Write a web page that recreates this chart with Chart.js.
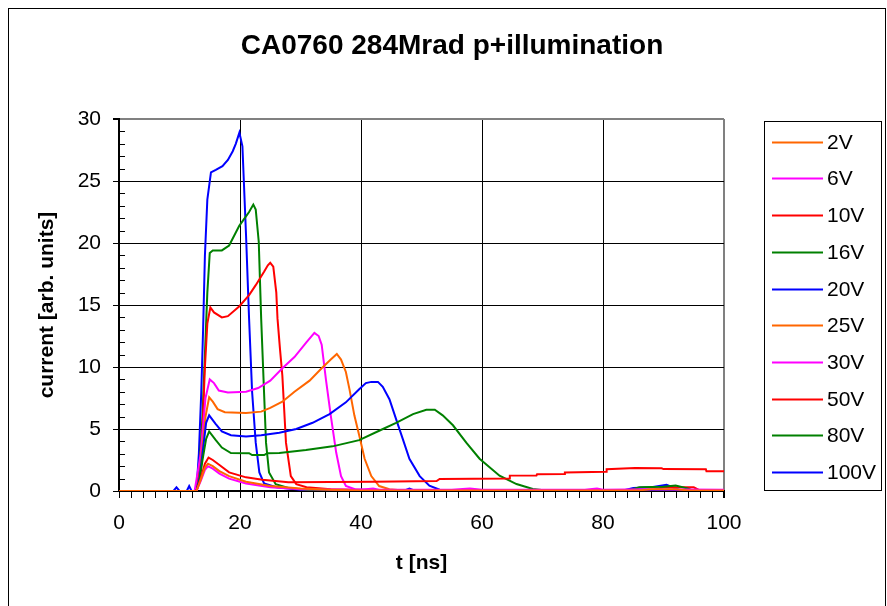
<!DOCTYPE html>
<html>
<head>
<meta charset="utf-8">
<script src="https://cdn.jsdelivr.net/npm/chart.js@4"></script>
<style>
  body { margin: 0; background: #fff; }
  #wrap { width: 887px; height: 606px; }
</style>
</head>
<body>
<div id="wrap"><canvas id="pulseChart" width="887" height="606"></canvas></div>
<script>
// series labels and colours (Excel default line colours)
const seriesLabels = ['2V', '6V', '10V', '16V', '20V', '25V', '30V', '50V', '80V', '100V'];
const seriesColors = ['#FF6600', '#FF00FF', '#FF0000', '#008000', '#0000FF',
                      '#FF6600', '#FF00FF', '#FF0000', '#008000', '#0000FF'];

// [t ns, current]
const v2 = [[0,0],[12.8,0],[13.5,0.9],[14.2,1.9],[14.7,2.2],[15.5,2.0],[16.6,1.6],[18.2,1.2],[21,0.75],[25,0.4],
  [30,0.2],[35,0.1],[40,0.05],[86,0.05],[88,0.15],[92,0.15],[94,0.05],[100,0.05]];
const v6 = [[0,0],[12.8,0],[13.5,0.8],[14.2,1.7],[14.7,2.0],[15.5,1.8],[16.6,1.4],[18.2,1.0],[21,0.6],[25,0.3],
  [30,0.15],[40,0.1],[42,0.2],[43,0.1],[55,0.1],[58,0.2],[60,0.1],[77,0.1],[79,0.2],[80,0.1],[88,0.15],[100,0.1]];
const v10 = [[0,0],[12.8,0],[13.5,1],[14.2,2.2],[14.8,2.7],[15.5,2.5],[16.6,2.1],[18.2,1.5],[21,1.1],[23.7,0.9],
  [28,0.7],[35,0.72],[42,0.75],[52.5,0.8],[53,0.97],[64.5,1.0],[64.6,1.24],[69,1.25],[69.1,1.35],[73.6,1.37],
  [73.7,1.5],[80.5,1.55],[80.6,1.75],[85.3,1.85],[89.7,1.83],[90,1.77],[97,1.75],[97.1,1.59],[100,1.59]];
const v16 = [[0,0],[12.8,0],[13.3,0.8],[13.8,2.5],[14.4,4.2],[14.9,4.8],[16,4.1],[17,3.5],[18.5,3.06],[21.5,3.05],
  [22,2.9],[24,2.9],[24.5,3.05],[26.5,3.06],[30.9,3.3],[35.3,3.6],[39.7,4.1],[43,4.86],[45.8,5.5],[48.6,6.2],
  [50.8,6.55],[52.2,6.55],[53.5,6.1],[55.2,5.3],[57.4,3.9],[59.6,2.6],[62.9,1.23],[65.7,0.56],[68.4,0.16],
  [70.6,0.05],[72,0],[84,0],[86,0.3],[90,0.35],[92,0.45],[94,0.2],[95,0],[100,0]];
const v20 = [[0,0],[12.8,0],[13.3,1],[13.8,3],[14.4,5.5],[14.9,6.1],[16,5.4],[17,4.8],[18.5,4.5],[21,4.4],
  [23.5,4.5],[26.5,4.7],[29.3,5.0],[32,5.5],[34.8,6.2],[37.5,7.15],[39.7,8.2],[40.8,8.7],[41.7,8.8],[42.8,8.8],
  [43.6,8.4],[44.7,7.4],[45.8,5.8],[46.9,4.2],[48,2.6],[49.7,1.2],[51.3,0.43],[53,0.1],[56,0],[100,0]];
const v25 = [[0,0],[12.8,0],[13.3,1],[13.8,3.5],[14.3,6],[14.9,7.55],[15.5,7.2],[16.3,6.6],[17.5,6.35],[21,6.3],
  [23.5,6.4],[25,6.7],[27,7.2],[29,8.0],[31.5,8.9],[33.5,9.9],[35,10.6],[36,11.05],[36.7,10.6],[37.5,9.6],
  [38.1,8.2],[38.9,6.1],[39.7,4.5],[40.6,2.6],[41.7,1.2],[43,0.4],[44.7,0.15],[47,0.05],[100,0]];
const v30 = [[0,0],[12.5,0],[13.5,3],[14.3,7.5],[15,9.0],[15.7,8.7],[16.5,8.1],[18,7.95],[21,8.0],[23,8.3],
  [25,8.9],[27,9.9],[29,10.8],[31,12.0],[32.3,12.75],[33,12.5],[33.5,11.8],[34.2,9],[35,6.1],[35.9,3.1],
  [36.7,1.2],[37.5,0.4],[39,0.15],[45,0.05],[100,0.05]];
const v50 = [[0,0],[12.8,0],[13.3,1.5],[13.8,5],[14.2,10],[14.6,13.5],[15.1,14.8],[15.7,14.4],[17,14.0],[18,14.1],
  [19.9,14.9],[21.5,15.8],[22.6,16.6],[24,17.7],[24.6,18.2],[25,18.4],[25.5,18.1],[26,16],[26.2,13.9],
  [26.6,11.5],[27,9.3],[27.6,3.9],[28.4,1.2],[29.3,0.55],[31,0.3],[35,0.15],[45,0.05],[88,0.05],[90,0.3],
  [95,0.3],[96,0.05],[100,0.05]];
const v80 = [[0,0],[12.8,0],[13.3,2],[13.8,6],[14.2,11],[14.6,16],[15,19.2],[15.5,19.4],[17,19.4],[18.2,19.8],
  [19.9,21.4],[21.5,22.5],[22.2,23.1],[22.6,22.7],[23.1,20.1],[23.5,13.9],[24.3,3.9],[24.8,1.5],[25.9,0.55],
  [28,0.25],[32,0.05],[45,0],[100,0]];
const v100 = [[0,0],[9,0],[9.5,0.3],[10,0],[11.2,0],[11.6,0.4],[12,0],[12.8,0],[13.2,3],[13.6,8],[13.9,13],
  [14.2,19],[14.6,23.5],[15.2,25.7],[16,25.9],[17.1,26.2],[18,26.7],[18.8,27.4],[19.3,28],[19.9,28.9],
  [20.4,27.8],[21,20.6],[21.5,13.9],[22,8],[22.6,3.9],[23.2,1.5],[24,0.6],[26,0.3],[30,0.1],[40,0],[47,0],
  [48,0.2],[49,0],[83,0],[85,0.25],[88,0.3],[90.5,0.5],[92,0.2],[93,0],[100,0]];

const seriesData = [v2, v6, v10, v16, v20, v25, v30, v50, v80, v100];

const xTicks = { min: 0, max: 100, step: 20, minor: 2 };
const yTicks = { min: 0, max: 30, step: 5, minor: 1 };

const FONT = "'Liberation Sans', Arial, sans-serif";

// outer frame, title, minor ticks and boxed legend the way Excel draws them
const excelDecor = {
  id: 'excelDecor',
  afterDraw(chart) {
    const ctx = chart.ctx;
    const xs = chart.scales.x, ys = chart.scales.y;
    const area = chart.chartArea;
    ctx.save();

    ctx.strokeStyle = '#000';
    ctx.lineWidth = 1;
    ctx.beginPath();
    for (let v = xTicks.min; v <= xTicks.max; v += xTicks.minor) {
      const px = Math.round(xs.getPixelForValue(v)) + 0.5;
      ctx.moveTo(px, area.bottom);
      ctx.lineTo(px, area.bottom + 7);
    }
    for (let v = yTicks.min; v <= yTicks.max; v += yTicks.minor) {
      if (v % yTicks.step === 0) continue;
      const py = Math.round(ys.getPixelForValue(v)) + 0.5;
      ctx.moveTo(area.left, py);
      ctx.lineTo(area.left + 6, py);
    }
    ctx.stroke();

    // chart frame
    ctx.strokeRect(8.5, 8.5, 877, 620);

    // title
    ctx.fillStyle = '#000';
    ctx.font = 'bold 28px ' + FONT;
    ctx.textAlign = 'center';
    ctx.textBaseline = 'middle';
    ctx.fillText('CA0760 284Mrad p+illumination', 452, 46);

    // legend
    ctx.strokeRect(764.5, 121.5, 117, 369);
    ctx.font = '21px ' + FONT;
    ctx.textAlign = 'left';
    chart.data.datasets.forEach((ds, i) => {
      const y = Math.round(141.7 + i * 36.7) + 0.5;
      ctx.strokeStyle = ds.borderColor;
      ctx.lineWidth = 2;
      ctx.beginPath();
      ctx.moveTo(772, y);
      ctx.lineTo(823, y);
      ctx.stroke();
      ctx.fillStyle = '#000';
      ctx.fillText(ds.label, 827, y + 1);
    });
    ctx.restore();
  }
};

const datasets = seriesLabels.map((label, i) => ({
  label: label,
  data: seriesData[i].map(p => ({ x: p[0], y: p[1] })),
  borderColor: seriesColors[i],
  backgroundColor: seriesColors[i],
  borderWidth: 2,
  pointRadius: 0,
  showLine: true,
  fill: false,
  tension: 0
}));

new Chart(document.getElementById('pulseChart').getContext('2d'), {
  type: 'scatter',
  data: { datasets: datasets },
  options: {
    responsive: false,
    animation: false,
    layout: { padding: { left: 8, top: 119, right: 163, bottom: 0 } },
    plugins: {
      legend: { display: false },
      title: { display: false },
      tooltip: { enabled: false }
    },
    scales: {
      x: {
        type: 'linear',
        min: xTicks.min,
        max: xTicks.max,
        afterFit: s => { s.height = 115; },
        ticks: { stepSize: xTicks.step, color: '#000', padding: 13, font: { family: FONT, size: 21 } },
        grid: {
          color: c => (c.tick && c.tick.value === xTicks.max ? '#808080' : '#000'),
          lineWidth: c => (c.tick && c.tick.value === xTicks.max ? 2 : 1),
          tickColor: '#000',
          tickLength: 7
        },
        border: { color: '#000', width: 2 },
        title: {
          display: true, text: 't [ns]', color: '#000',
          font: { family: FONT, size: 21, weight: 'bold' },
          padding: { top: 0, bottom: 30 }
        }
      },
      y: {
        min: yTicks.min,
        max: yTicks.max,
        afterFit: s => { s.width = 111; },
        ticks: { stepSize: yTicks.step, color: '#000', padding: 12, font: { family: FONT, size: 21 } },
        grid: {
          color: c => (c.tick && c.tick.value === yTicks.max ? '#808080' : '#000'),
          lineWidth: c => (c.tick && c.tick.value === yTicks.max ? 2 : 1),
          tickColor: '#000',
          tickLength: 6
        },
        border: { color: '#000', width: 2 },
        title: {
          display: true, text: 'current [arb. units]', color: '#000',
          font: { family: FONT, size: 21, weight: 'bold' },
          padding: { top: 27, bottom: 0 }
        }
      }
    }
  },
  plugins: [excelDecor]
});
</script>
</body>
</html>
